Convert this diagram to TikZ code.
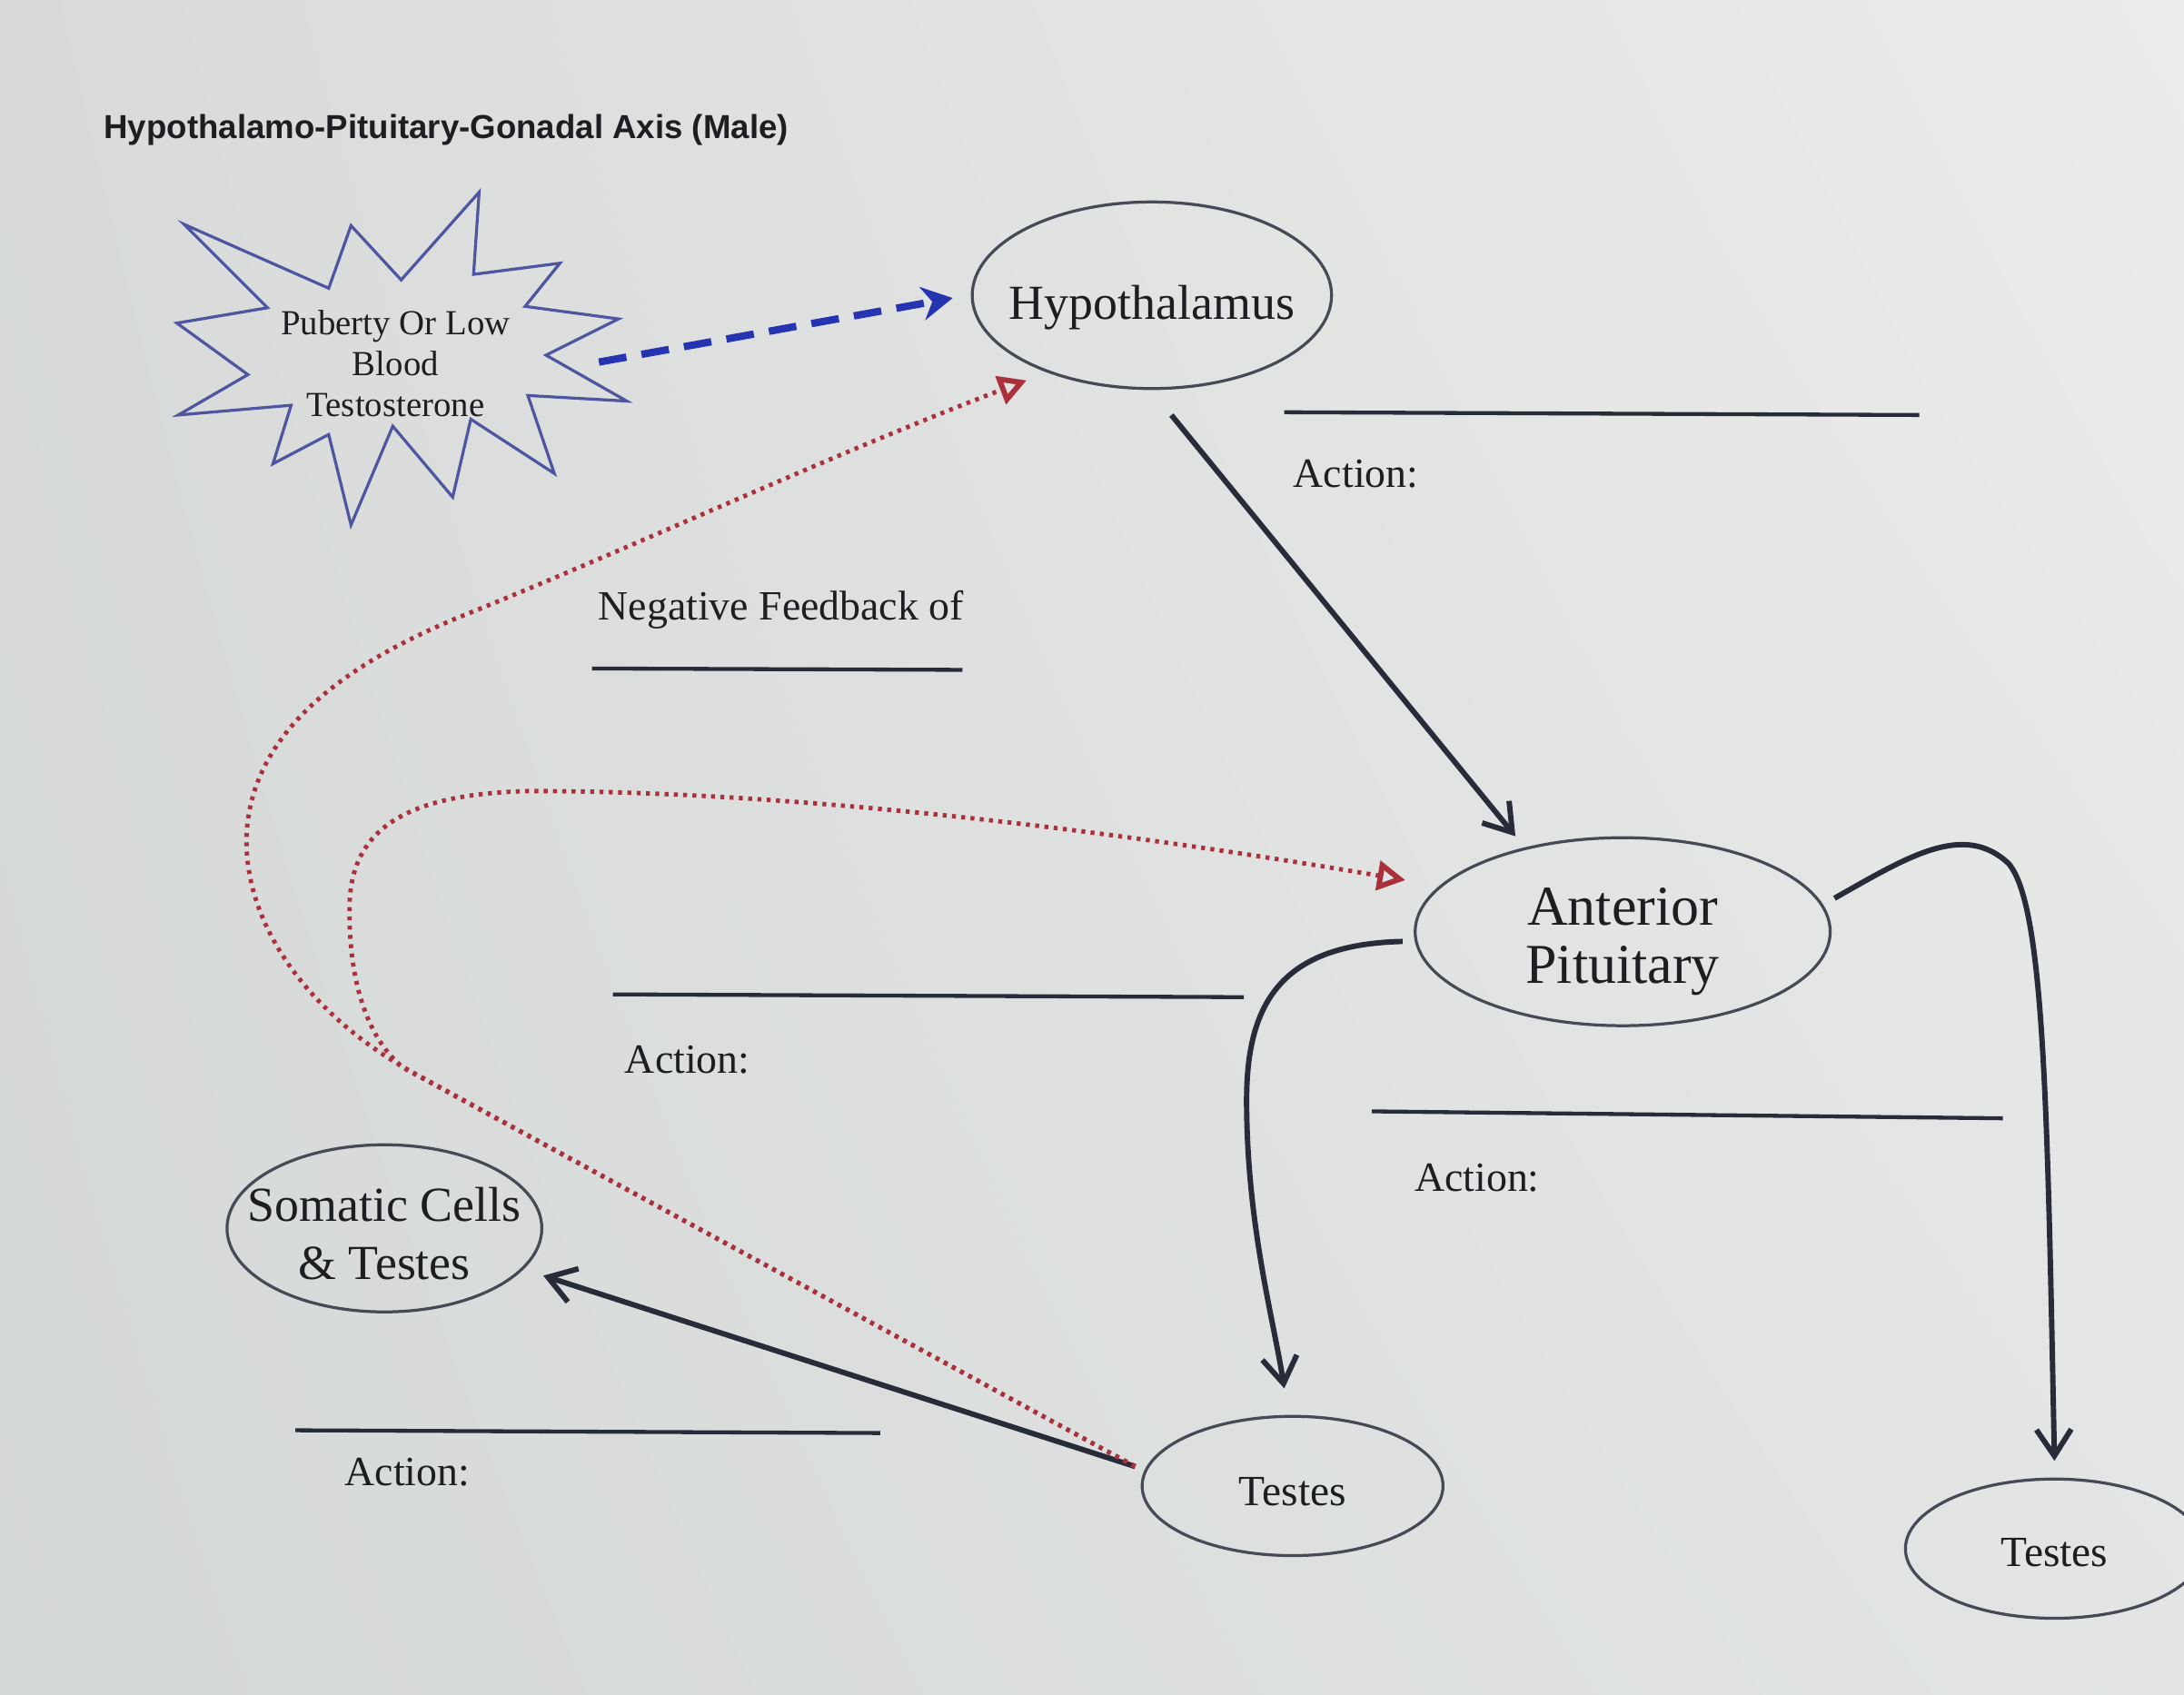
\documentclass[tikz,border=0pt]{standalone}
\usepackage{fontspec}
\setmainfont{Liberation Serif}
\newfontfamily\titlefont{Liberation Sans}
\usetikzlibrary{arrows.meta,shapes.geometric,shadings}
\definecolor{bgTL}{RGB}{216,219,218}
\definecolor{bgTR}{RGB}{236,237,235}
\definecolor{bgBL}{RGB}{212,216,215}
\definecolor{bgBR}{RGB}{226,229,228}
\definecolor{inkc}{RGB}{40,44,56}
\definecolor{ellc}{RGB}{70,74,84}
\definecolor{starc}{RGB}{78,86,160}
\definecolor{bluec}{RGB}{38,52,178}
\definecolor{fbred}{RGB}{170,48,60}
\definecolor{textc}{RGB}{30,30,34}
\newcommand{\lowtext}[2]{\raisebox{-#1}[0pt][0pt]{\makebox[0pt]{#2}}}
\newcommand{\twolines}[2]{\begin{tabular}{@{}c@{}}#1\\#2\end{tabular}}
\begin{document}
\begin{tikzpicture}[x=0.1mm,y=-0.1mm,
  ell/.style={draw=ellc, line width=0.6pt, ellipse, inner sep=0pt, text=textc},
  blk/.style={draw=inkc, line width=1.1pt, -{Straight Barb[length=1.9mm,width=2.5mm,line width=1.1pt]}},
  fb/.style={draw=fbred, line width=0.9pt, dash pattern=on 0.8pt off 1.1pt, -{Triangle[open,length=2mm,width=2.1mm,line width=1.1pt]}},
  trig/.style={draw=bluec, line width=1.5pt, dash pattern=on 2mm off 1.1mm, -{Stealth[length=2.2mm,width=2.4mm]}},
  blank/.style={draw=inkc, line width=0.8pt},
  lbl/.style={anchor=west, inner sep=0pt, text=textc, font=\fontsize{8.5}{10}\selectfont}]
\useasboundingbox (0,0) rectangle (1568,1217);
\shade[upper left=bgTL, upper right=bgTR, lower left=bgBL, lower right=bgBR] (0,0) rectangle (1568,1217);

% title
\node[anchor=west, inner sep=0pt, text=textc, font=\titlefont\bfseries\fontsize{6.8}{8}\selectfont] (title) at (74,93) {Hypothalamo-Pituitary-Gonadal Axis (Male)};

% starburst
\draw[starc, line width=0.6pt, line join=miter]
  (132,161) -- (236,207) -- (252,162) -- (288,201) -- (344,138) -- (340,197)
  -- (402,189) -- (377,220) -- (444,229) -- (392,255) -- (450,288) -- (379,284)
  -- (398,340) -- (338,301) -- (325,357) -- (282,306) -- (252,377) -- (236,312)
  -- (196,333) -- (209,291) -- (128,298) -- (178,269) -- (127,232) -- (192,221) -- cycle;
\node[align=center, inner sep=0pt, text=textc, font=\fontsize{7.2}{8.3}\selectfont] (star) at (284,261) {Puberty Or Low\\Blood\\Testosterone};
\coordinate (starR) at (430,260);

% nodes
\node[ell, minimum width=25.8mm, minimum height=13.4mm, font=\fontsize{10}{12}\selectfont] (hyp) at (827,212) {\lowtext{5pt}{Hypothalamus}};
\node[ell, minimum width=29.8mm, minimum height=13.5mm, font=\fontsize{11.5}{12}\selectfont] (ap) at (1165,669) {\lowtext{5.2pt}{\twolines{Anterior}{Pituitary}}};
\node[ell, minimum width=22.6mm, minimum height=12mm, font=\fontsize{10}{12}\selectfont] (som) at (276,882) {\lowtext{4.6pt}{\twolines{Somatic Cells}{\& Testes}}};
\node[ell, minimum width=21.6mm, minimum height=10mm, font=\fontsize{8.8}{10}\selectfont] (t1) at (928,1067) {\lowtext{4pt}{Testes}};
\node[ell, minimum width=21.4mm, minimum height=10mm, font=\fontsize{8.8}{10}\selectfont] (t2) at (1475,1112) {\lowtext{3.7pt}{Testes}};

% blanks and labels
\draw[blank] (922,296) -- (1378,298);
\node[lbl] (a1) at (928,340) {Action:};
\node[lbl] (nf) at (429,438) {Negative Feedback of};
\draw[blank] (425,480) -- (691,481);
\draw[blank] (440,714) -- (893,716);
\node[lbl] (a2) at (448,761) {Action:};
\draw[blank] (985,798) -- (1438,803);
\node[lbl] (a3) at (1015,846) {Action:};
\draw[blank] (212,1027) -- (632,1029);
\node[lbl] (a4) at (247,1057) {Action:};

% trigger
\draw[trig] (starR) -- ([xshift=-1.3mm,yshift=-0.2mm]hyp.west);

% black arrows
\draw[blk] ([xshift=1.4mm,yshift=-1.8mm]hyp.south) -- ([xshift=-7.7mm]ap.north);
\draw[blk] ([xshift=-0.8mm,yshift=-0.7mm]ap.west) .. controls (920,678) and (895,720) .. (895,790)
  .. controls (895,880) and (915,950) .. ([xshift=-0.6mm,yshift=1.9mm]t1.north);
\draw[blk] ([xshift=0.2mm,yshift=2.4mm]ap.east) .. controls (1370,615) and (1410,590) .. (1442,620)
  .. controls (1468,650) and (1470,800) .. ([yshift=1.2mm]t2.north);
\draw[blk] ([xshift=-0.4mm,yshift=1.4mm]t1.west) -- ([yshift=-3.4mm]som.east);

% negative feedback
\draw[fb] ([xshift=-0.4mm,yshift=1.4mm]t1.west) -- (300,772)
  .. controls (230,735) and (175,670) .. (177,600)
  .. controls (180,530) and (240,480) .. (330,443)
  .. controls (450,395) and (600,325) .. ([xshift=0.2mm,yshift=-1.3mm]hyp.south west);
\draw[fb] ([xshift=-0.4mm,yshift=1.4mm]t1.west) -- (290,767)
  .. controls (262,745) and (250,700) .. (251,650)
  .. controls (252,590) and (300,570) .. (380,568)
  .. controls (600,568) and (850,605) .. ([xshift=-0.6mm,yshift=3.7mm]ap.west);
\end{tikzpicture}
\end{document}
